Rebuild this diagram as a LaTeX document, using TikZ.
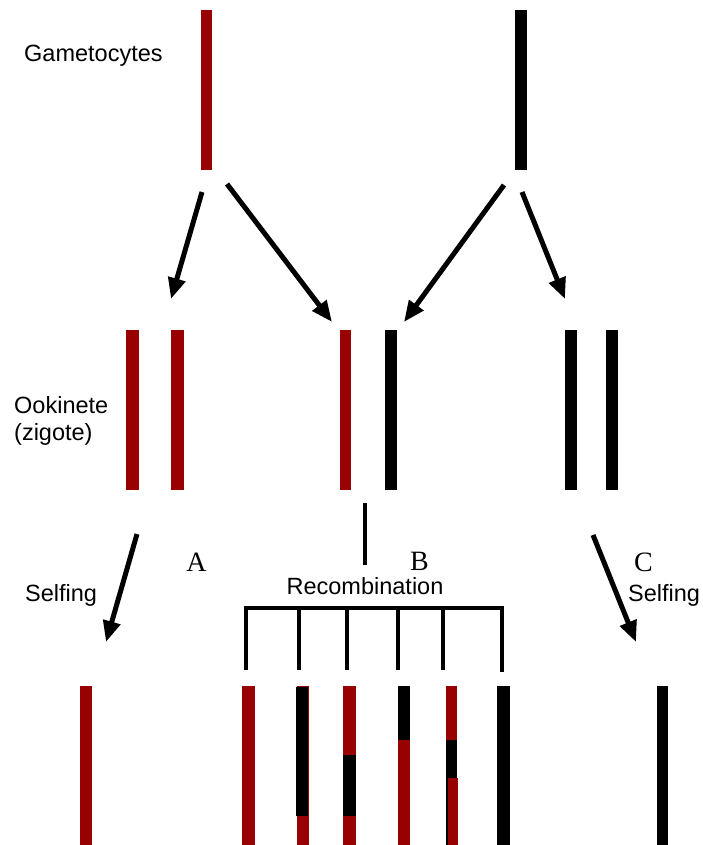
\documentclass[tikz,border=0pt]{standalone}
\usepackage{fontspec}
\setmainfont{Liberation Sans}
\newfontfamily\letterfont{Liberation Serif}
\usetikzlibrary{arrows.meta}
\definecolor{chromred}{RGB}{153,0,0}
\tikzset{
  bar/.style={rectangle, inner sep=0pt, outer sep=0pt, draw=none, minimum width=#1},
  redbar/.style={bar=12pt, fill=chromred},
  blackbar/.style={bar=12pt, fill=black},
  arrow/.style={line width=5pt, -{Triangle[length=21pt,width=17pt]}},
  bracket/.style={line width=3.5pt},
  label/.style={font=\fontsize{23.5}{26}\selectfont, inner sep=0pt, anchor=base west},
  letter/.style={font=\letterfont\fontsize{28}{30}\selectfont, inner sep=0pt, anchor=base}
}
\begin{document}
\begin{tikzpicture}[x=1pt, y=-1pt]
\useasboundingbox (0,0) rectangle (703,845);

% gametocytes
\node[redbar, minimum width=11pt, minimum height=160pt] (gr) at (206.5,90) {};
\node[blackbar, minimum width=12pt, minimum height=160pt] (gb) at (521,90) {};
\node[label] (tg) at (24,62) {Gametocytes};

% ookinetes
\node[redbar, minimum width=13pt, minimum height=160pt] (o1) at (132,410) {};
\node[redbar, minimum width=13pt, minimum height=160pt] (o2) at (177,410) {};
\node[redbar, minimum width=11pt, minimum height=160pt] (o3) at (345,410) {};
\node[blackbar, minimum width=12pt, minimum height=160pt] (o4) at (391,410) {};
\node[blackbar, minimum width=12pt, minimum height=160pt] (o5) at (571,410) {};
\node[blackbar, minimum width=12pt, minimum height=160pt] (o6) at (612,410) {};
\node[label] (to1) at (14,413) {Ookinete};
\node[label] (to2) at (14,440) {(zigote)};

% fertilisation arrows
\coordinate (s1) at (202,192);   \coordinate (e1) at (171,299);
\coordinate (s2) at (227,184);   \coordinate (e2) at (332,322);
\coordinate (s3) at (504,185);   \coordinate (e3) at (404,322);
\coordinate (s4) at (522,192);   \coordinate (e4) at (565,299);
\draw[arrow] (s1) -- (e1);
\draw[arrow] (s2) -- (e2);
\draw[arrow] (s3) -- (e3);
\draw[arrow] (s4) -- (e4);

% selfing arrows
\coordinate (s5) at (137,534);   \coordinate (e5) at (106,642);
\coordinate (s6) at (593,535);   \coordinate (e6) at (636,642);
\draw[arrow] (s5) -- (e5);
\draw[arrow] (s6) -- (e6);

% labels
\node[letter] (la) at (196.5,571) {A};
\node[letter] (lb) at (419.5,570) {B};
\node[letter] (lc) at (643.5,571) {C};
\node[label] (ts1) at (25,601) {Selfing};
\node[label] (ts2) at (628,601) {Selfing};
\node[label, anchor=base] (tr) at (365,594) {Recombination};

% recombination bracket
\coordinate (rtop) at (365,503);
\coordinate (rbot) at (365,565);
\draw[bracket] (rtop) -- (rbot);
\coordinate (k1) at (246,608);
\coordinate (k6) at (502,608);
\draw[bracket] (k1) -- (k6);
\foreach \x/\e in {246/670,299/670,347/670,398/670,443/670,502/672}
  \draw[bracket] (\x,606.25) -- (\x,\e);

% progeny chromosomes
\node[redbar, minimum width=12pt, minimum height=159pt] (pa) at (86,765.5) {};
\node[blackbar, minimum width=11pt, minimum height=159pt] (pc) at (662.5,765.5) {};

\node[redbar, minimum width=13pt, minimum height=159pt] (p1) at (248.5,765.5) {};
\node[redbar, minimum width=12pt, minimum height=159pt] (p2) at (303,765.5) {};
\fill[black] (296,687) rectangle (307.5,816);
\node[redbar, minimum width=13pt, minimum height=159pt] (p3) at (349.5,765.5) {};
\fill[black] (343,755) rectangle (356,816);
\node[redbar, minimum width=12pt, minimum height=159pt] (p4) at (404,765.5) {};
\fill[black] (398,686) rectangle (410,740);
\node[redbar, minimum width=11pt, minimum height=159pt] (p5) at (451.5,765.5) {};
\fill[black] (446,740) rectangle (457,845);
\fill[chromred] (448,778) rectangle (458,845);
\node[blackbar, minimum width=13pt, minimum height=159pt] (p6) at (503.5,765.5) {};
\end{tikzpicture}
\end{document}
